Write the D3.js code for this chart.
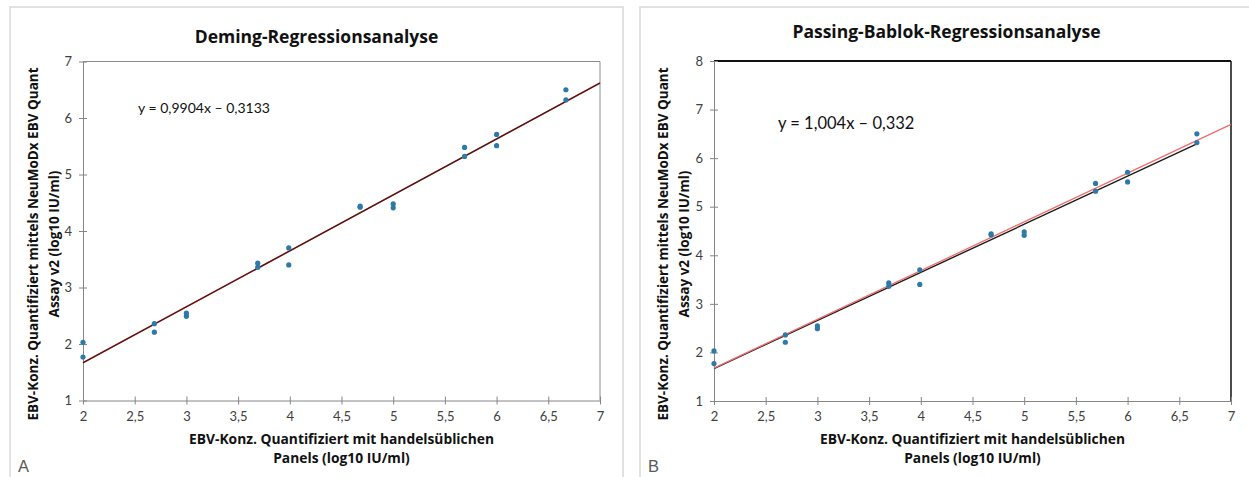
<!DOCTYPE html>
<html lang="de">
<head>
<meta charset="UTF-8">
<title>EBV Regressionsanalyse</title>
<style>
    body { margin: 0; padding: 0; overflow: hidden; background: #fff; }
    svg { display: block; }
    text { font-family: "Open Sans", Lato, sans-serif; }
</style>
</head>
<body>
<svg id="chart"></svg>
<script src="https://cdn.jsdelivr.net/npm/d3@7"></script>
<script>
    // Messwerte (log10 IU/ml): Referenzpanel vs. NeuMoDx EBV Quant Assay v2
    const panelX = [2, 2, 2.69, 2.69, 3, 3, 3.69, 3.69, 3.99, 3.99, 4.68, 4.68, 5, 5, 5.69, 5.69, 6, 6, 6.67, 6.67];
    const assayY = [2.03, 1.77, 2.36, 2.21, 2.545, 2.49, 3.43, 3.36, 3.70, 3.40, 4.44, 4.42, 4.48, 4.41, 5.48, 5.32, 5.71, 5.51, 6.50, 6.32];

    const xTicks = [2, 2.5, 3, 3.5, 4, 4.5, 5, 5.5, 6, 6.5, 7];
    const yTicksA = [1, 2, 3, 4, 5, 6, 7];
    const yTicksB = [1, 2, 3, 4, 5, 6, 7, 8];

    // Regressionsgeraden: [Steigung, Achsenabschnitt, x von, x bis]
    const demingFit = [0.9904, -0.3133, 2, 7];
    const demingInRange = [0.9904, -0.3133, 2, 6.67];
    const pbFit = [1.004, -0.332, 2, 7];

    const titles = ["Deming-Regressionsanalyse", "Passing-Bablok-Regressionsanalyse"];
    const equations = ["y = 0,9904x \u2013 0,3133", "y = 1,004x \u2013 0,332"];
    const xLabel = ["EBV-Konz. Quantifiziert mit handelsüblichen", "Panels (log10 IU/ml)"];
    const yLabel = ["EBV-Konz. Quantifiziert mittels NeuMoDx EBV Quant", "Assay v2 (log10 IU/ml)"];

    const W = 1249, H = 477;
    const svg = d3.select("#chart").attr("width", W).attr("height", H);
    const fmt = d => String(d).replace(".", ",");

    function drawPanel(o) {
        const g = svg.append("g");

        // Rahmen der Abbildung
        g.append("rect")
            .attr("x", o.box[0]).attr("y", o.box[1])
            .attr("width", o.box[2]).attr("height", H)
            .attr("fill", "none").attr("stroke", "#d9d9d9").attr("stroke-width", 1.5);

        const x = d3.scaleLinear().domain([2, 7]).range([o.plot.left, o.plot.right]);
        const y = d3.scaleLinear().domain(o.yDomain).range([o.plot.bottom, o.plot.top]);

        // obere + rechte Begrenzung
        g.append("line")
            .attr("x1", x(2)).attr("x2", x(7)).attr("y1", y(o.yDomain[1])).attr("y2", y(o.yDomain[1]))
            .attr("stroke", o.frameColor).attr("stroke-width", o.topWidth);
        g.append("line")
            .attr("x1", x(7)).attr("x2", x(7)).attr("y1", y(o.yDomain[0])).attr("y2", y(o.yDomain[1]))
            .attr("stroke", o.frameColor).attr("stroke-width", o.rightWidth);

        const xAxis = g.append("g")
            .attr("transform", `translate(0,${o.plot.bottom})`)
            .call(d3.axisBottom(x).tickValues(xTicks).tickFormat(fmt).tickSize(4).tickSizeOuter(0).tickPadding(7));
        xAxis.selectAll(".tick line").attr("y1", -4);

        const yAxis = g.append("g")
            .attr("transform", `translate(${o.plot.left},0)`)
            .call(d3.axisLeft(y).tickValues(o.yTicks).tickFormat(fmt).tickSize(4).tickSizeOuter(0).tickPadding(7));
        yAxis.selectAll(".tick line").attr("x1", 4);

        [xAxis, yAxis].forEach(a => {
            a.select(".domain").attr("stroke", "#868686");
            a.selectAll(".tick line").attr("stroke", "#868686");
            a.selectAll("text").attr("fill", "#404040")
                .style("font-family", "Lato, sans-serif").style("font-size", "13px");
        });

        // Regressionsgeraden
        o.lines.forEach(l => {
            const [m, b, x0, x1] = l.fit;
            g.append("line")
                .attr("x1", x(x0)).attr("y1", y(m * x0 + b))
                .attr("x2", x(x1)).attr("y2", y(m * x1 + b))
                .attr("stroke", l.color).attr("stroke-width", l.width);
        });

        // Messpunkte
        g.selectAll(".pt")
            .data(panelX.map((d, i) => [d, assayY[i]]))
            .enter().append("circle")
            .attr("class", "pt")
            .attr("cx", d => x(d[0]))
            .attr("cy", d => y(d[1]))
            .attr("r", 2.6)
            .attr("fill", "#2d7aa8");

        const cx = o.box[0] + o.box[2] / 2;
        g.append("text")
            .attr("x", cx).attr("y", o.titleY)
            .attr("text-anchor", "middle")
            .style("font-size", "17.5px").style("font-weight", "bold")
            .attr("fill", "#111")
            .text(o.title);

        g.append("text")
            .attr("x", o.eq[0]).attr("y", o.eq[1])
            .style("font-family", "Lato, sans-serif")
            .style("font-size", o.eq[2] + "px")
            .attr("fill", "#111")
            .text(o.equation);

        const xl = g.append("text")
            .attr("text-anchor", "middle")
            .style("font-size", "13.8px").style("font-weight", "bold")
            .attr("fill", "#111");
        xLabel.forEach((t, i) => {
            xl.append("tspan").attr("x", (o.plot.left + o.plot.right) / 2).attr("y", 444 + i * 19).text(t);
        });

        const yl = g.append("text")
            .attr("text-anchor", "middle")
            .attr("transform", `translate(${o.box[0] + 28},244) rotate(-90)`)
            .style("font-size", "13.5px").style("font-weight", "bold")
            .attr("fill", "#111");
        yLabel.forEach((t, i) => {
            yl.append("tspan").attr("x", 0).attr("y", i * 21).text(t);
        });

        g.append("text")
            .attr("x", o.box[0] + 8).attr("y", 472)
            .style("font-family", "'Liberation Sans', Arial, sans-serif")
            .style("font-size", "16.5px")
            .attr("fill", "#595959")
            .text(o.letter);
    }

    drawPanel({
        box: [10, 7, 613],
        plot: {left: 83, right: 600, top: 61.5, bottom: 400.5},
        yDomain: [1, 7], yTicks: yTicksA,
        frameColor: "#8c8c8c", topWidth: 1, rightWidth: 1,
        lines: [
            {fit: demingFit, color: "#d43a3a", width: 1.6},
            {fit: demingFit, color: "rgba(20,10,10,0.75)", width: 1.2}
        ],
        title: titles[0], titleY: 43,
        equation: equations[0], eq: [138, 113, 14],
        letter: "A"
    });

    drawPanel({
        box: [640, 7, 613],
        plot: {left: 714, right: 1231, top: 61, bottom: 401},
        yDomain: [1, 8], yTicks: yTicksB,
        frameColor: "#111", topWidth: 2, rightWidth: 1.5,
        lines: [
            {fit: demingInRange, color: "#1a1a1a", width: 1.4},
            {fit: pbFit, color: "#f26b6b", width: 1.3}
        ],
        title: titles[1], titleY: 38,
        equation: equations[1], eq: [778, 129, 16.5],
        letter: "B"
    });
</script>
</body>
</html>
